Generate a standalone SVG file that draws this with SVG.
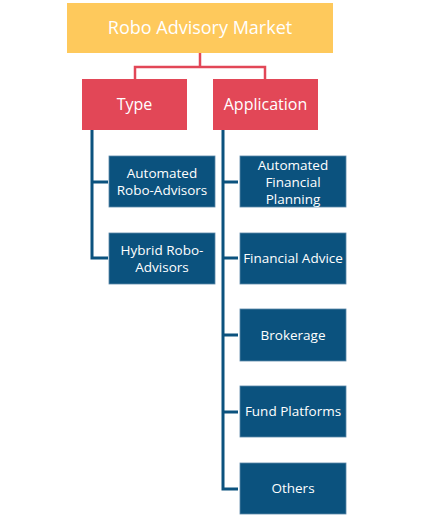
<svg xmlns="http://www.w3.org/2000/svg" width="435" height="517" viewBox="0 0 435 517">
<style>
.t{font-family:"Open Sans","Liberation Sans",sans-serif;fill:#fff;text-anchor:middle}
.top{fill:#FEC95C}
.red{fill:#E24757}
.blue{fill:#0B527E;stroke:#5a87a8;stroke-width:0.8}
.rc{fill:none;stroke:#E24757;stroke-width:2.5}
.bc{fill:none;stroke:#0B527E;stroke-width:3}
</style>
<rect width="435" height="517" fill="#fff"/>
<g id="connectors">
<path class="rc" d="M200 53V67M135 79V67H265V79"/>
<path class="bc" d="M92 130V258H108M92 182H108"/>
<path class="bc" d="M223 130V489H238M223 182H238M223 258H238M223 335H238M223 412H238"/>
</g>
<g id="root"><rect class="top" x="67" y="3" width="266" height="50"/><text class="t" x="200" y="34" font-size="18">Robo Advisory Market</text></g>
<g id="type"><rect class="red" x="82" y="79" width="105" height="51"/><text class="t" x="134.5" y="110" font-size="16">Type</text></g>
<g id="application"><rect class="red" x="213" y="79" width="105" height="51"/><text class="t" x="265.5" y="110" font-size="16">Application</text></g>
<g id="automated-robo"><rect class="blue" x="109" y="156" width="106" height="51"/><text class="t" font-size="13.5" x="162" y="178">Automated<tspan x="162" dy="17">Robo-Advisors</tspan></text></g>
<g id="hybrid-robo"><rect class="blue" x="109" y="233" width="106" height="51"/><text class="t" font-size="13.5" x="162" y="255">Hybrid Robo-<tspan x="162" dy="17">Advisors</tspan></text></g>
<g id="auto-fin-planning"><rect class="blue" x="240" y="156" width="106" height="51"/><text class="t" font-size="13.5" x="293" y="170">Automated<tspan x="293" dy="17">Financial</tspan><tspan x="293" dy="17">Planning</tspan></text></g>
<g id="financial-advice"><rect class="blue" x="240" y="233" width="106" height="51"/><text class="t" font-size="13.5" x="293" y="263">Financial Advice</text></g>
<g id="brokerage"><rect class="blue" x="240" y="309" width="106" height="52"/><text class="t" font-size="13.5" x="293" y="340">Brokerage</text></g>
<g id="fund-platforms"><rect class="blue" x="240" y="386" width="106" height="51"/><text class="t" font-size="13.5" x="293" y="416">Fund Platforms</text></g>
<g id="others"><rect class="blue" x="240" y="463" width="106" height="51"/><text class="t" font-size="13.5" x="293" y="493">Others</text></g>
</svg>
